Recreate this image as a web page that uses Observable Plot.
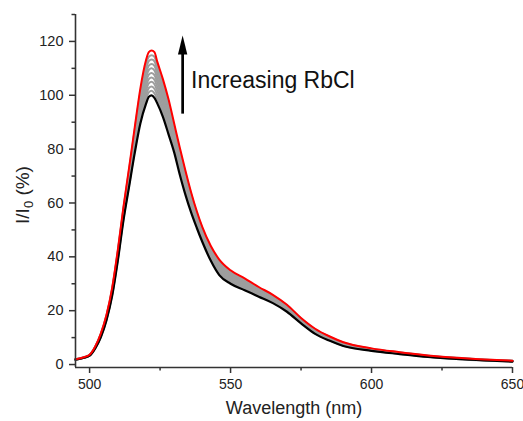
<!DOCTYPE html>
<html><head><meta charset="utf-8">
<script src="https://cdn.jsdelivr.net/npm/d3@7"></script>
<script src="https://cdn.jsdelivr.net/npm/@observablehq/plot@0.6"></script>
<style>body{margin:0;background:#fff}</style>
</head><body><div id="chart"></div>
<script>
const wavelength = [495,498,500,502,504,506,508,510,512,514,516,518,520,521,522,523,524,526,528,530,532,534,536,538,540,543,546,550,555,560,565,570,575,580,585,590,600,610,620,630,640,650];
const black = [1.8,2.5,3.3,6.0,10.2,16.5,25.5,38.5,53.5,66.0,78.5,89.5,96.8,99.4,100.0,99.0,97.0,92.0,85.5,78.8,70.5,63.0,56.5,50.8,45.5,38.5,33.2,30.0,27.6,25.2,22.8,19.6,15.3,11.4,8.9,6.9,5.1,3.9,2.8,2.05,1.5,1.1];
const gray1 = [1.8,2.5,3.3,6.1,10.3,16.7,25.8,38.9,54.0,66.7,79.5,90.8,98.4,101.1,101.7,100.7,98.6,93.4,86.8,79.9,71.5,63.9,57.3,51.4,46.1,39.1,33.8,30.5,28.0,25.6,23.1,19.9,15.5,11.6,9.1,7.0,5.2,4.0,2.9,2.1,1.5,1.1];
const gray2 = [1.8,2.5,3.4,6.1,10.5,16.9,26.1,39.3,54.5,67.4,80.4,92.1,100.0,102.7,103.3,102.4,100.1,94.8,88.1,80.9,72.5,64.8,58.0,52.0,46.6,39.6,34.4,31.0,28.5,25.9,23.4,20.1,15.7,11.8,9.2,7.2,5.3,4.0,2.9,2.1,1.6,1.2];
const gray3 = [1.9,2.6,3.4,6.2,10.6,17.1,26.4,39.7,55.0,68.1,81.4,93.4,101.7,104.4,105.0,104.1,101.7,96.2,89.4,82.0,73.5,65.7,58.8,52.7,47.2,40.2,34.9,31.5,28.9,26.3,23.7,20.4,15.9,12.0,9.4,7.3,5.4,4.1,3.0,2.2,1.6,1.2];
const gray4 = [1.9,2.6,3.4,6.3,10.8,17.3,26.7,40.1,55.5,68.8,82.3,94.7,103.3,106.0,106.6,105.8,103.2,97.6,90.7,83.1,74.5,66.6,59.5,53.3,47.7,40.7,35.5,32.0,29.4,26.6,24.0,20.6,16.1,12.1,9.6,7.5,5.5,4.2,3.0,2.2,1.7,1.2];
const gray5 = [1.9,2.6,3.5,6.4,10.9,17.5,27.0,40.5,56.0,69.5,83.3,96.0,104.9,107.7,108.3,107.5,104.8,99.0,92.0,84.2,75.5,67.5,60.3,53.9,48.3,41.3,36.1,32.5,29.8,27.0,24.4,20.9,16.3,12.3,9.7,7.6,5.6,4.3,3.1,2.3,1.7,1.3];
const gray6 = [1.9,2.6,3.5,6.4,11.0,17.7,27.3,40.9,56.5,70.2,84.2,97.3,106.5,109.4,110.0,109.2,106.3,100.4,93.3,85.2,76.5,68.4,61.0,54.5,48.8,41.8,36.7,33.0,30.2,27.4,24.7,21.2,16.5,12.5,9.9,7.7,5.6,4.3,3.2,2.3,1.7,1.3];
const gray7 = [1.9,2.6,3.5,6.5,11.2,17.9,27.6,41.3,57.0,70.9,85.2,98.6,108.1,111.0,111.6,110.9,107.9,101.8,94.6,86.3,77.5,69.3,61.8,55.1,49.4,42.4,37.3,33.5,30.7,27.7,25.0,21.4,16.7,12.7,10.0,7.9,5.7,4.4,3.2,2.4,1.8,1.3];
const gray8 = [2.0,2.7,3.5,6.6,11.3,18.1,27.9,41.7,57.5,71.6,86.1,99.9,109.8,112.7,113.3,112.6,109.4,103.2,95.9,87.4,78.5,70.2,62.5,55.8,49.9,42.9,37.8,34.0,31.1,28.1,25.3,21.7,16.9,12.9,10.2,8.0,5.8,4.5,3.3,2.4,1.8,1.4];
const gray9 = [2.0,2.7,3.6,6.6,11.5,18.3,28.2,42.1,58.0,72.3,87.1,101.2,111.4,114.3,114.9,114.3,111.0,104.6,97.2,88.4,79.5,71.1,63.3,56.4,50.5,43.5,38.4,34.5,31.6,28.4,25.6,22.0,17.1,13.1,10.4,8.2,5.9,4.5,3.3,2.5,1.9,1.4];
const red = [2.0,2.7,3.6,6.7,11.6,18.5,28.5,42.5,58.5,73.0,88.0,102.5,113.0,116.0,116.6,116.0,112.5,106.0,98.5,89.5,80.5,72.0,64.0,57.0,51.0,44.0,39.0,35.0,32.0,28.8,25.9,22.2,17.3,13.3,10.5,8.3,6.0,4.6,3.4,2.5,1.9,1.45];

const xTicks = [500,550,600,650];
const xMinor = [525,575,625];
const yTicks = [0,20,40,60,80,100,120];
const yMinor = [10,30,50,70,90,110,130];
const xDomain = [495,650];
const yDomain = [-1.1,130];
const annotation = "Increasing RbCl";
const xLabel = "Wavelength (nm)";
const arrowX = [533];
const arrowBottom = 93, arrowTop = 117, arrowTip = 122.2;
const annotationX = 536, annotationY = 105.5;

const grayRows = [];
[gray1,gray2,gray3,gray4,gray5,gray6,gray7,gray8,gray9].forEach((s, k) =>
  s.forEach((v, i) => grayRows.push({series: k, wl: wavelength[i], v})));
const blackRows = black.map((v, i) => ({wl: wavelength[i], v}));
const redRows = red.map((v, i) => ({wl: wavelength[i], v}));

const arrowHead = {draw(ctx) { ctx.moveTo(0, 0); ctx.lineTo(4.7, 19); ctx.lineTo(-4.7, 19); ctx.closePath(); }};
const font = "'Liberation Sans', Arial, sans-serif";

const plot = Plot.plot({
  width: 523, height: 421,
  marginLeft: 75, marginRight: 11, marginTop: 14, marginBottom: 54,
  style: {fontFamily: font, fontSize: "14px", color: "#222", background: "#fff"},
  x: {domain: xDomain, label: null},
  y: {domain: yDomain, label: null},
  marks: [
    Plot.line(grayRows, {x: "wl", y: "v", z: "series", stroke: "#9d9d9d", strokeWidth: 2, curve: "monotone-x"}),
    Plot.line(blackRows, {x: "wl", y: "v", stroke: "#000", strokeWidth: 2.2, curve: "monotone-x"}),
    Plot.line(redRows, {x: "wl", y: "v", stroke: "#f00", strokeWidth: 2, curve: "monotone-x"}),
    Plot.ruleX([xDomain[0]], {stroke: "#333", strokeWidth: 1.6}),
    Plot.ruleY([yDomain[0]], {stroke: "#333", strokeWidth: 1.6}),
    Plot.axisX(xTicks, {tickSize: 6, tickPadding: 6, label: null, stroke: "#333", strokeWidth: 1.5, fontSize: 14}),
    Plot.axisX(xMinor, {tickSize: 3.5, tickFormat: () => "", label: null, stroke: "#333", strokeWidth: 1.5}),
    Plot.axisY(yTicks, {tickSize: 6, tickPadding: 6, label: null, stroke: "#333", strokeWidth: 1.5, fontSize: 14.5}),
    Plot.axisY(yMinor, {tickSize: 3.5, tickFormat: () => "", label: null, stroke: "#333", strokeWidth: 1.5}),
    Plot.ruleX(arrowX, {y1: arrowBottom, y2: arrowTop, stroke: "#000", strokeWidth: 2.7}),
    Plot.dot(arrowX, {x: d => d, y: arrowTip, symbol: arrowHead, fill: "#000", stroke: "none"}),
    Plot.text([annotation], {x: annotationX, y: annotationY, text: d => d, textAnchor: "start", fontSize: 23, fill: "#111"}),
    Plot.text([xLabel], {frameAnchor: "bottom", dy: 46, text: d => d, fontSize: 18, fill: "#222"})
  ]
});

const svg = d3.select(plot);
const yl = svg.append("text")
  .attr("transform", "translate(29,195) rotate(-90)")
  .attr("text-anchor", "middle")
  .attr("fill", "#222")
  .style("font-family", font)
  .style("font-size", "19px");
yl.append("tspan").text("I/I");
yl.append("tspan").attr("dy", 4).style("font-size", "13px").text("0");
yl.append("tspan").attr("dy", -4).text(" (%)");

document.getElementById("chart").appendChild(plot);
</script>
</body></html>
